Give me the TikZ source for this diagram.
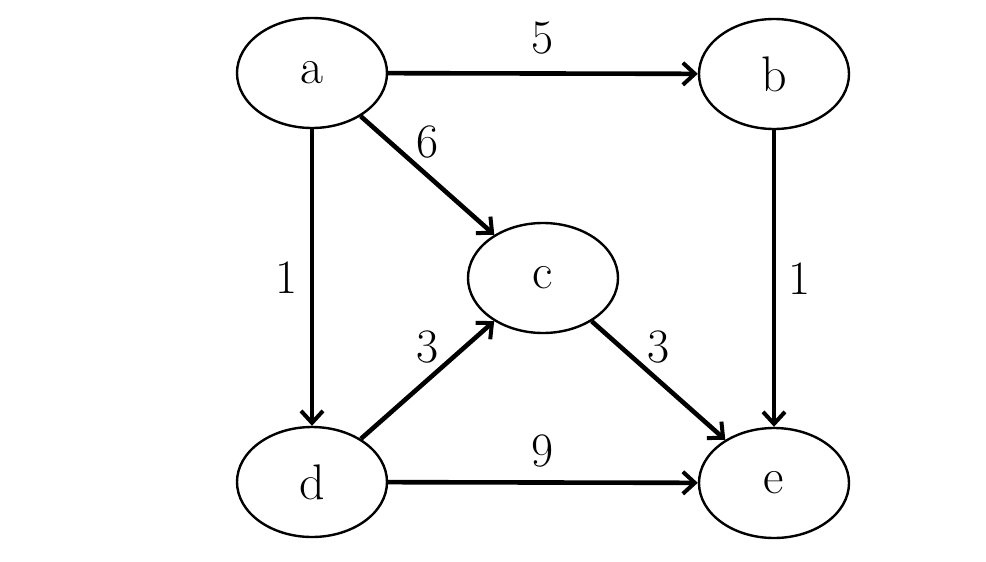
\documentclass[tikz,border=0pt]{standalone}
\usetikzlibrary{arrows.meta,shapes.geometric}

\begin{document}
\begin{tikzpicture}[
    x=0.5pt, y=-0.5pt,
    vertex/.style={draw, ellipse, line width=1.2pt, minimum width=75pt, minimum height=55pt, inner sep=0pt, font=\fontsize{25}{30}\selectfont},
    arr/.style={-{Straight Barb[length=6pt, width=11pt, line width=2pt]}, line width=2.3pt},
    wt/.style={font=\fontsize{24}{28}\selectfont}
]
    \useasboundingbox (0,0) rectangle (986,562);

    \node[vertex] (a) at (312,73) {a};
    \node[vertex] (b) at (774,74) {b};
    \node[vertex] (c) at (543,278) {c};
    \node[vertex] (d) at (312,482) {d};
    \node[vertex] (e) at (774,483) {e};

    \draw[arr] (a) -- node[wt, above=5pt] {5} (b);
    \draw[arr] (a) -- node[wt, above=4pt] {6} (c);
    \draw[arr] (a) -- node[wt, left=3pt] {1} (d);
    \draw[arr] (b) -- node[wt, right=3pt] {1} (e);
    \draw[arr] (d) -- node[wt, above=4pt] {3} (c);
    \draw[arr] (c) -- node[wt, above=4pt] {3} (e);
    \draw[arr] (d) -- node[wt, above=3pt] {9} (e);
\end{tikzpicture}
\end{document}
